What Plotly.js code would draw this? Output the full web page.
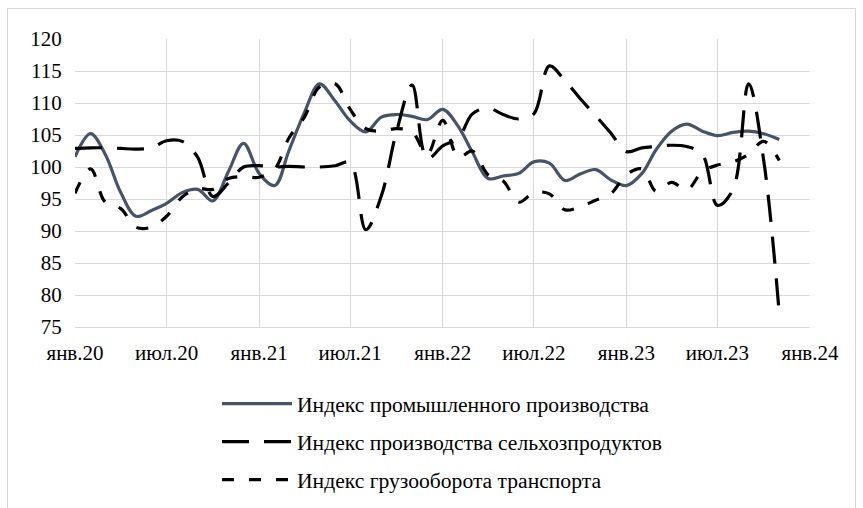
<!DOCTYPE html>
<html><head><meta charset="utf-8">
<script src="https://cdn.plot.ly/plotly-3.0.1.min.js"></script>
<style>
html,body{margin:0;padding:0;background:#fff;}
#chart{position:absolute;left:0;top:0;width:863px;height:508px;}
#frame{position:absolute;left:7px;top:8px;width:849px;height:520px;border:1px solid #d9d9d9;box-sizing:border-box;pointer-events:none;}
</style>
</head><body>
<div id="chart"></div><div id="frame"></div>
<script>
const months = ['2020-01-01','2020-02-01','2020-03-01','2020-04-01','2020-05-01','2020-06-01','2020-07-01','2020-08-01','2020-09-01','2020-10-01','2020-11-01','2020-12-01',
'2021-01-01','2021-02-01','2021-03-01','2021-04-01','2021-05-01','2021-06-01','2021-07-01','2021-08-01','2021-09-01','2021-10-01','2021-11-01','2021-12-01',
'2022-01-01','2022-02-01','2022-03-01','2022-04-01','2022-05-01','2022-06-01','2022-07-01','2022-08-01','2022-09-01','2022-10-01','2022-11-01','2022-12-01',
'2023-01-01','2023-02-01','2023-03-01','2023-04-01','2023-05-01','2023-06-01','2023-07-01','2023-08-01','2023-09-01','2023-10-01','2023-11-01'];

const industrial = [101.6,105.2,102.0,96.0,92.3,93.2,94.3,96.0,96.5,94.7,99.3,103.7,
99.0,97.1,102.5,108.5,113.0,110.3,107.2,105.5,107.8,108.2,107.9,107.4,
109.0,106.3,102.3,98.2,98.6,99.0,100.8,100.6,97.9,98.9,99.6,98.0,
97.1,99.0,102.7,105.6,106.7,105.6,104.9,105.4,105.6,105.2,104.3];

const agriculture = [102.9,103.0,103.0,102.9,102.8,103.0,104.1,104.0,101.5,95.4,97.5,100.0,
100.2,100.0,100.1,100.0,100.0,100.2,100.7,90.2,95.5,105.5,112.8,101.3,
103.3,104.5,108.3,109.2,108.2,107.5,108.3,115.8,113.5,110.7,108.0,105.3,
102.4,103.0,103.2,103.4,103.2,102.0,94.0,96.5,113.0,101.0,77.0];

const freight = [95.9,99.7,94.5,93.5,90.6,90.6,92.3,95.3,96.6,96.5,98.2,98.5,
98.4,99.7,104.5,107.8,112.5,113.0,109.0,106.0,105.6,106.0,105.5,102.0,
107.3,101.5,102.5,98.8,97.8,94.5,96.0,95.8,93.3,93.8,94.8,95.8,
98.8,99.7,96.2,97.6,96.4,99.3,100.3,100.8,102.0,104.0,101.0];

const seriesNames = ['Индекс промышленного производства','Индекс производства сельхозпродуктов','Индекс грузооборота транспорта'];
const tickDates = ['2020-01-01','2020-07-01','2021-01-01','2021-07-01','2022-01-01','2022-07-01','2023-01-01','2023-07-01','2024-01-01'];
const tickLabels = ['янв.20','июл.20','янв.21','июл.21','янв.22','июл.22','янв.23','июл.23','янв.24'];

const FONT = 'Liberation Serif';

const traces = [
  {x: months, y: industrial, name: seriesNames[0], type:'scatter', mode:'lines', legendgroup:'a',
   line:{color:'#44546A', width:3.2, shape:'spline', smoothing:1}},
  {x: months, y: agriculture, name: seriesNames[1], type:'scatter', mode:'lines', legendgroup:'b',
   line:{color:'#000000', width:3.2, dash:'27px,15px', shape:'spline', smoothing:1}},
  {x: months, y: freight, name: seriesNames[2], type:'scatter', mode:'lines', legendgroup:'c',
   line:{color:'#000000', width:3.2, dash:'12px,15px', shape:'spline', smoothing:1}}
];

const layout = {
  width: 863, height: 508,
  margin: {l:75, r:53, t:39, b:181, autoexpand:false},
  paper_bgcolor:'rgba(0,0,0,0)', plot_bgcolor:'#ffffff',
  font: {family: FONT, size: 21, color:'#000000'},
  showlegend: true,
  legend: {xref:'container', yref:'container', x: 217/863, y: 1-383/508, xanchor:'left', yanchor:'top',
           font:{family:FONT, size:21.6, color:'#000000'}, itemwidth:70, tracegroupgap:7,
           bgcolor:'rgba(0,0,0,0)', traceorder:'grouped'},
  xaxis: {type:'date', range:['2020-01-01','2024-01-01'], tickmode:'array', tickvals: tickDates, ticktext: tickLabels,
          showgrid:true, gridcolor:'#d9d9d9', gridwidth:1, showline:true, linecolor:'#d9d9d9', linewidth:1,
          ticks:'', zeroline:false, tickangle:0, tickfont:{family:FONT, size:21, color:'#000'}, ticklabelstandoff:7},
  yaxis: {range:[75,120], tickmode:'linear', tick0:75, dtick:5, showgrid:true, gridcolor:'#d9d9d9', gridwidth:1,
          showline:false, zeroline:false, ticks:'outside', ticklen:8, tickcolor:'rgba(0,0,0,0)',
          tickfont:{family:FONT, size:21, color:'#000'}}
};

Plotly.newPlot('chart', traces, layout, {staticPlot:true, displayModeBar:false});
</script>
</body></html>
